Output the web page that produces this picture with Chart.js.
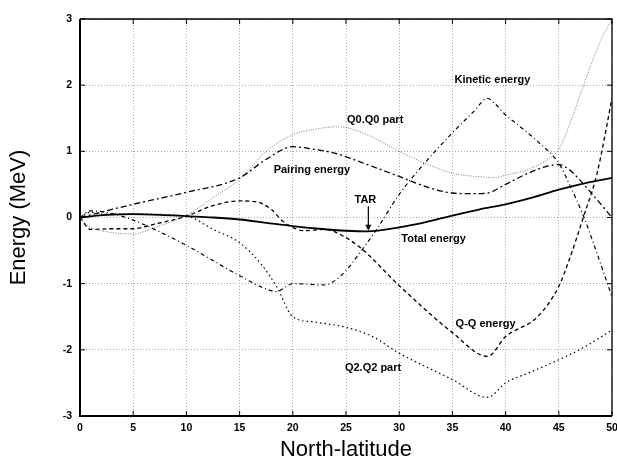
<!DOCTYPE html>
<html>
<head>
<meta charset="utf-8">
<script src="https://cdn.jsdelivr.net/npm/chart.js@4"></script>
<style>
html,body{margin:0;padding:0;background:#fff;}
#wrap{width:617px;height:464px;position:relative;}
</style>
</head>
<body>
<div id="wrap"><canvas id="c" width="617" height="464"></canvas></div>
<script>
// ---- Data ----
const xTicks = [0, 5, 10, 15, 20, 25, 30, 35, 40, 45, 50];
const yTicks = [-3, -2, -1, 0, 1, 2, 3];

const totalX = [0, 2.5, 5, 7.5, 10, 12.5, 15, 17.5, 20, 22.5, 25, 27, 30, 32.5, 35, 37.5, 40, 42.5, 45, 47.5, 50];
const totalY = [0, 0.04, 0.05, 0.04, 0.02, 0.0, -0.03, -0.08, -0.13, -0.17, -0.2, -0.21, -0.15, -0.07, 0.03, 0.12, 0.2, 0.3, 0.42, 0.52, 0.6];

const kinX = [0, 1, 3, 5, 7, 10, 15, 17.5, 18.5, 19.5, 20, 23, 24, 25, 26, 27, 28, 30, 32, 35, 37, 38.3, 39, 40, 41, 43, 45, 46, 47.3, 48.5, 50];
const kinY = [0, 0.1, 0.06, -0.04, -0.18, -0.42, -0.88, -1.08, -1.12, -1.03, -1.0, -1.02, -0.95, -0.8, -0.6, -0.38, -0.15, 0.35, 0.75, 1.28, 1.6, 1.8, 1.72, 1.55, 1.42, 1.15, 0.82, 0.5, 0.03, -0.5, -1.2];

const pairX = [0, 5, 10, 15, 17.5, 20, 22, 24, 27, 30, 33, 35, 37, 38.3, 40, 42, 44, 45, 46, 48, 50];
const pairY = [0, 0.2, 0.38, 0.6, 0.88, 1.07, 1.03, 0.97, 0.8, 0.62, 0.44, 0.37, 0.36, 0.37, 0.5, 0.66, 0.78, 0.8, 0.72, 0.38, 0.0];

const q0X = [0, 1, 2, 5, 7, 10, 12.5, 15, 17.5, 20, 22, 24, 25, 27, 30, 32, 35, 38, 39, 40, 42, 44, 45, 46, 47, 48, 49, 50];
const q0Y = [0, -0.15, -0.2, -0.25, -0.15, 0.03, 0.3, 0.58, 1.0, 1.25, 1.33, 1.37, 1.36, 1.25, 1.0, 0.85, 0.67, 0.61, 0.6, 0.64, 0.72, 0.88, 1.03, 1.4, 1.85, 2.3, 2.7, 3.0];

const qqX = [0, 1, 3, 5, 7, 10, 12.5, 15, 16.5, 18, 19, 20, 21, 23, 24, 26.3, 30, 35, 38.3, 40, 43, 45, 46, 47.3, 48.6, 50];
const qqY = [0, -0.18, -0.17, -0.17, -0.1, 0.02, 0.18, 0.25, 0.24, 0.12, -0.05, -0.15, -0.2, -0.18, -0.22, -0.45, -1.03, -1.74, -2.1, -1.8, -1.5, -1.04, -0.63, 0.0, 0.67, 1.8];

const q2X = [0, 1, 2, 5, 10, 12.5, 15, 17, 18.5, 20, 22, 25, 27.5, 30, 35, 38.3, 40, 42.3, 45, 47.5, 50];
const q2Y = [0, 0.08, 0.05, 0.05, 0.02, -0.18, -0.38, -0.7, -1.05, -1.5, -1.58, -1.66, -1.8, -2.05, -2.45, -2.72, -2.5, -2.34, -2.15, -1.95, -1.7];

const labels = [
  {text: 'Kinetic energy', x: 35.2, y: 2.08},
  {text: 'Q0.Q0 part', x: 25.1, y: 1.48},
  {text: 'Pairing energy', x: 18.2, y: 0.72},
  {text: 'TAR', x: 25.8, y: 0.27},
  {text: 'Total energy', x: 30.2, y: -0.32},
  {text: 'Q-Q energy', x: 35.3, y: -1.61},
  {text: 'Q2.Q2 part', x: 24.9, y: -2.28}
];
const tarArrow = {x: 27.1, y0: 0.17, y1: -0.2};

function pts(xs, ys) { return xs.map((x, i) => ({x: x, y: ys[i]})); }

const annotPlugin = {
  id: 'annot',
  afterDatasetsDraw(chart) {
    const ctx = chart.ctx;
    const xs = chart.scales.x, ys = chart.scales.y;
    const a = chart.chartArea;
    ctx.save();
    ctx.fillStyle = '#000';
    ctx.font = 'bold 11px "Liberation Sans", Arial, sans-serif';
    ctx.textBaseline = 'middle';
    ctx.textAlign = 'left';
    labels.forEach(l => ctx.fillText(l.text, xs.getPixelForValue(l.x), ys.getPixelForValue(l.y)));
    const ax = xs.getPixelForValue(tarArrow.x);
    const ay0 = ys.getPixelForValue(tarArrow.y0), ay1 = ys.getPixelForValue(tarArrow.y1);
    ctx.strokeStyle = '#000'; ctx.lineWidth = 1.2; ctx.setLineDash([]);
    ctx.beginPath(); ctx.moveTo(ax, ay0); ctx.lineTo(ax, ay1 - 3); ctx.stroke();
    ctx.beginPath(); ctx.moveTo(ax - 3, ay1 - 6); ctx.lineTo(ax, ay1); ctx.lineTo(ax + 3, ay1 - 6); ctx.closePath(); ctx.fill();
    ctx.lineWidth = 2;
    ctx.beginPath(); ctx.moveTo(a.left, a.top); ctx.lineTo(a.left, a.bottom); ctx.lineTo(a.right, a.bottom); ctx.stroke();
    ctx.lineWidth = 1.3;
    ctx.beginPath(); ctx.moveTo(a.left, a.top); ctx.lineTo(a.right, a.top); ctx.lineTo(a.right, a.bottom); ctx.stroke();
    ctx.lineWidth = 1;
    xTicks.forEach(t => {
      const p = xs.getPixelForValue(t);
      ctx.beginPath(); ctx.moveTo(p, a.bottom); ctx.lineTo(p, a.bottom - 5);
      ctx.moveTo(p, a.top); ctx.lineTo(p, a.top + 5); ctx.stroke();
    });
    yTicks.forEach(t => {
      const p = ys.getPixelForValue(t);
      ctx.beginPath(); ctx.moveTo(a.left, p); ctx.lineTo(a.left + 5, p);
      ctx.moveTo(a.right, p); ctx.lineTo(a.right - 5, p); ctx.stroke();
    });
    ctx.restore();
  }
};

const common = {pointRadius: 0, fill: false, cubicInterpolationMode: 'monotone', borderColor: '#000'};
const tickFont = {family: '"Liberation Sans", Arial, sans-serif', size: 10.5, weight: 'bold'};
const titleFont = {family: '"Liberation Sans", Arial, sans-serif', size: 22};

new Chart(document.getElementById('c'), {
  type: 'line',
  data: {
    datasets: [
      Object.assign({label: 'Total energy', data: pts(totalX, totalY), borderWidth: 1.8, borderDash: []}, common),
      Object.assign({label: 'Kinetic energy', data: pts(kinX, kinY), borderWidth: 1.2, borderDash: [4, 3, 1, 3]}, common),
      Object.assign({label: 'Pairing energy', data: pts(pairX, pairY), borderWidth: 1.3, borderDash: [6, 3, 2, 3]}, common),
      Object.assign({label: 'Q0.Q0 part', data: pts(q0X, q0Y), borderWidth: 1, borderDash: [1, 1.5]}, common, {borderColor: '#777'}),
      Object.assign({label: 'Q-Q energy', data: pts(qqX, qqY), borderWidth: 1.3, borderDash: [4, 3]}, common),
      Object.assign({label: 'Q2.Q2 part', data: pts(q2X, q2Y), borderWidth: 1.2, borderDash: [1.5, 3]}, common)
    ]
  },
  options: {
    responsive: false,
    animation: false,
    devicePixelRatio: 1,
    layout: {padding: {top: 19, right: 5, left: 0, bottom: 0}},
    plugins: {legend: {display: false}, tooltip: {enabled: false}},
    scales: {
      x: {
        type: 'linear', min: 0, max: 50,
        afterBuildTicks(s) { s.ticks = xTicks.map(v => ({value: v})); },
        afterFit(s) { s.height = 48; s.paddingLeft = 0; s.paddingRight = 0; },
        grid: {color: '#aaa', lineWidth: 1, drawTicks: false},
        border: {display: false, dash: [1, 2]},
        ticks: {color: '#000', padding: 6, font: tickFont, maxRotation: 0},
        title: {display: true, text: 'North-latitude', color: '#000', font: titleFont, padding: {top: 0, bottom: 1}}
      },
      y: {
        type: 'linear', min: -3, max: 3,
        afterBuildTicks(s) { s.ticks = yTicks.map(v => ({value: v})); },
        afterFit(s) { s.width = 80; s.paddingTop = 0; s.paddingBottom = 0; },
        grid: {color: '#aaa', lineWidth: 1, drawTicks: false},
        border: {display: false, dash: [1, 2]},
        ticks: {color: '#000', padding: 8, font: tickFont},
        title: {display: true, text: 'Energy (MeV)', color: '#000', font: titleFont, padding: {top: 6, bottom: 0}}
      }
    }
  },
  plugins: [annotPlugin]
});
</script>
</body>
</html>
